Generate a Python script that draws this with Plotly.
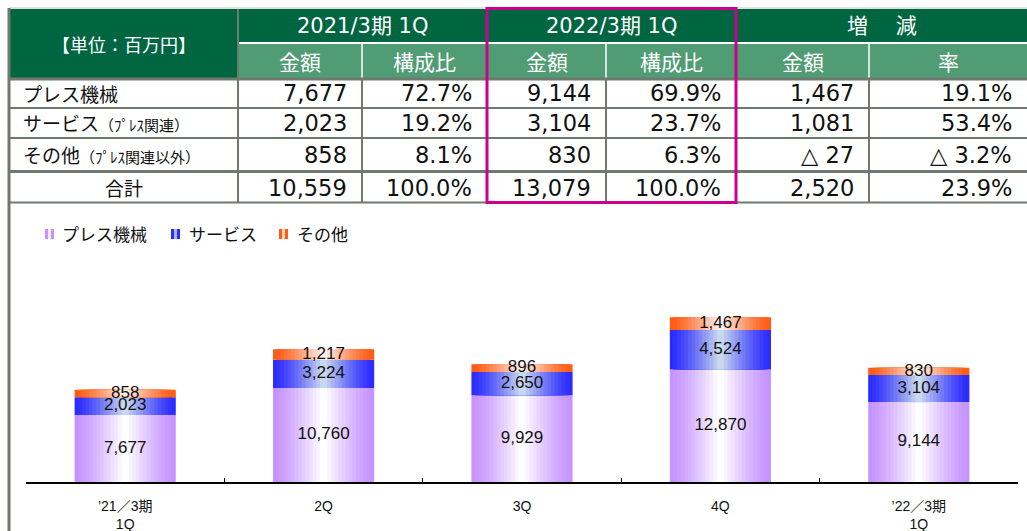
import plotly.graph_objects as go

W, H = 1027, 531

# ---------------- data ----------------
quarters = ["’21／3期<br>1Q", "2Q", "3Q", "4Q", "’22／3期<br>1Q"]
press = [7677, 10760, 9929, 12870, 9144]
service = [2023, 3224, 2650, 4524, 3104]
other = [858, 1217, 896, 1467, 830]
series_names = ["プレス機械", "サービス", "その他"]

table_unit = "【単位：百万円】"
period_headers = ["2021/3期 1Q", "2022/3期 1Q", "増　 減"]
sub_headers = ["金額", "構成比", "金額", "構成比", "金額", "率"]
row_main = ["プレス機械", "サービス", "その他", "合計"]
row_sub = ["", "（ﾌﾟﾚｽ関連）", "（ﾌﾟﾚｽ関連以外）", ""]
amt_2021 = ["7,677", "2,023", "858", "10,559"]
ratio_2021 = ["72.7%", "19.2%", "8.1%", "100.0%"]
amt_2022 = ["9,144", "3,104", "830", "13,079"]
ratio_2022 = ["69.9%", "23.7%", "6.3%", "100.0%"]
diff_amt = ["1,467", "1,081", "△ 27", "2,520"]
diff_rate = ["19.1%", "53.4%", "△ 3.2%", "23.9%"]

# ---------------- styles ----------------
JP = "Noto Sans CJK JP"
NUMF = "DejaVu Sans, Noto Sans CJK JP"
ARIAL = "Arial, Liberation Sans, Noto Sans CJK JP"
DARK = "rgb(0,102,66)"
LIGHT = "rgb(80,156,116)"
GRAY = "rgb(110,122,112)"
MAG = "rgb(204,0,140)"

edge_cols = [(198, 148, 255), (44, 44, 255), (255, 92, 20)]
center_cols = [(255, 255, 255), (200, 216, 238), (255, 240, 236)]

def X(p):
    return p / W

def Y(p):
    return 1 - p / H

def lerp(c1, c2, t):
    return "rgb(%d,%d,%d)" % tuple(round(a + (b - a) * t) for a, b in zip(c1, c2))

fig = go.Figure()

# ---------------- gradient stacked bars ----------------
BAR_W = 0.51
N = 14
values = [press, service, other]
bases = []
acc = [0] * len(quarters)
for vals in values:
    bases.append(list(acc))
    acc = [a + v for a, v in zip(acc, vals)]

for s, vals in enumerate(values):
    for k in range(N):
        t = (k / (N - 1)) ** 1.3
        fig.add_trace(go.Bar(
            x=quarters, y=vals, base=bases[s],
            width=BAR_W * (1 - k / N),
            marker=dict(color=lerp(edge_cols[s], center_cols[s], t), line=dict(width=0)),
            showlegend=False, hoverinfo="skip", name=series_names[s],
        ))

for s, vals in enumerate(values):
    fig.add_trace(go.Scatter(
        x=quarters, y=[b + v / 2 for b, v in zip(bases[s], vals)],
        mode="text", text=[f"{v:,}" for v in vals],
        textfont=dict(family=ARIAL, size=17, color="#111111"),
        showlegend=False, hoverinfo="skip",
    ))

# ---------------- table ----------------
shapes = []
ann = []

def rect(x0, y0, x1, y1, fill):
    shapes.append(dict(type="rect", xref="paper", yref="paper",
                       x0=X(x0), x1=X(x1), y0=Y(y1), y1=Y(y0),
                       fillcolor=fill, line=dict(width=0), layer="above"))

def line(x0, y0, x1, y1, color, w):
    shapes.append(dict(type="line", xref="paper", yref="paper",
                       x0=X(x0), x1=X(x1), y0=Y(y0), y1=Y(y1),
                       line=dict(color=color, width=w), layer="above"))

def text(x, y, s, size, color, font=JP, anchor="center"):
    ann.append(dict(xref="paper", yref="paper", x=X(x), y=Y(y), text=s,
                    showarrow=False, xanchor=anchor, yanchor="middle",
                    font=dict(family=font, size=size, color=color)))

col_x = [9, 238, 362, 487, 606, 736, 869, 1027]
T0, T1, T2 = 9, 43, 79

rect(9, T0, 1027, T1, DARK)
rect(9, T0, 238, T2, DARK)
rect(238, T1, 1027, T2, LIGHT)
line(238, T1, 1027, T1, "white", 2)
for cx in (362, 606, 869):
    line(cx, T1, cx, T2, "white", 1.5)

line(9, 8, 1027, 8, "rgb(190,196,192)", 1)
line(9, 79, 1027, 79, GRAY, 3)
line(9, 108, 1027, 108, GRAY, 2)
line(9, 138, 1027, 138, GRAY, 2)
line(9, 171.5, 1027, 171.5, GRAY, 3)
line(9, 202.5, 1027, 202.5, GRAY, 2)
line(238, T0, 238, 202, GRAY, 2)
for cx in (362, 606, 869):
    line(cx, 79, cx, 202, GRAY, 2)
line(9, 8, 9, 531, GRAY, 3)

shapes.append(dict(type="rect", xref="paper", yref="paper",
                   x0=X(487), x1=X(736), y0=Y(202.5), y1=Y(8.5),
                   fillcolor="rgba(0,0,0,0)", line=dict(color=MAG, width=3), layer="above"))

# header text
text(123.5, 44, table_unit, 18, "white")
group_edges = [(238, 487), (487, 736), (736, 1027)]
for (a, b), s in zip(group_edges, period_headers):
    text((a + b) / 2, 26, s, 21, "white", font=NUMF)
for i, s in enumerate(sub_headers):
    text((col_x[i + 1] + col_x[i + 2]) / 2, 61.5, s, 21, "white")

# body text
row_centers = [93.5, 123, 154.5, 187.5]
columns = [amt_2021, ratio_2021, amt_2022, ratio_2022, diff_amt, diff_rate]
for r in range(4):
    cy = row_centers[r]
    if r < 3:
        lab = row_main[r]
        if row_sub[r]:
            lab += "<span style='font-size:15px'>" + row_sub[r] + "</span>"
        text(21, cy, lab, 19, "#111111", anchor="left")
    else:
        text(123.5, cy, row_main[r], 19, "#111111")
    for c, col in enumerate(columns):
        text(col_x[c + 2] - 13, cy, col[r], 22.5, "#111111", font=NUMF, anchor="right")

# ---------------- custom legend ----------------
leg_items = [(45, 60), (171, 187), (279, 295)]
for s, (sx, tx) in enumerate(leg_items):
    rect(sx, 229, sx + 3, 239, lerp(edge_cols[s], center_cols[s], 0))
    rect(sx + 3, 229, sx + 6, 239, lerp(edge_cols[s], center_cols[s], 0.8))
    rect(sx + 6, 229, sx + 9, 239, lerp(edge_cols[s], center_cols[s], 0))
    text(tx, 234, series_names[s], 17, "#111111", anchor="left")

# ---------------- layout ----------------
PX_PER_UNIT = 0.00874
PLOT_TOP, PLOT_BOT = 250, 482
fig.update_layout(
    width=W, height=H,
    margin=dict(l=0, r=0, t=0, b=0),
    paper_bgcolor="white", plot_bgcolor="rgba(0,0,0,0)",
    barmode="overlay", showlegend=False,
    shapes=shapes, annotations=ann,
    xaxis=dict(domain=[X(26), X(1018)], showline=True, linecolor="black", linewidth=2,
               ticks="inside", tickson="boundaries", ticklen=4, tickcolor="black",
               tickwidth=1, showgrid=False, zeroline=False, fixedrange=True,
               tickfont=dict(family=ARIAL, size=14, color="#111111"),
               ticklabelstandoff=10),
    yaxis=dict(domain=[Y(PLOT_BOT), Y(PLOT_TOP)], visible=False,
               range=[0, (PLOT_BOT - PLOT_TOP) / PX_PER_UNIT], fixedrange=True),
)

fig.write_html(
    "out.html",
    config={"displayModeBar": False},
    post_script="document.body.style.margin='0';document.body.style.overflow='hidden';",
)
